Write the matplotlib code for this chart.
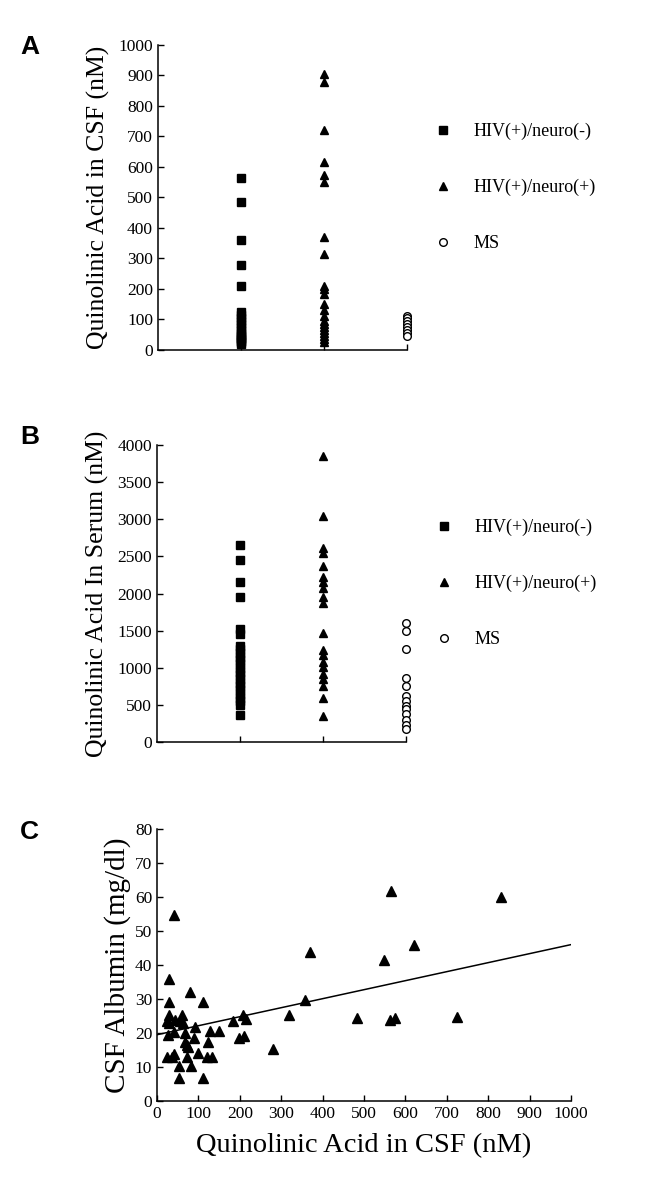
import numpy as np
import matplotlib
matplotlib.use("Agg")
import matplotlib.pyplot as plt
from matplotlib.lines import Line2D

plt.rcParams['font.family'] = ['Liberation Serif', 'DejaVu Serif']

# Panel A: quinolinic acid in CSF (nM)
groups = ["HIV(+)/neuro(-)", "HIV(+)/neuro(+)", "MS"]
csf_neg = [565, 485, 360, 280, 210, 125, 115, 105, 95, 85, 75, 65, 55, 50,
           45, 40, 35, 30, 25, 20]
csf_pos = [905, 880, 720, 615, 575, 550, 370, 315, 210, 200, 185, 150, 130,
           110, 95, 85, 75, 65, 55, 45, 35, 25]
csf_ms = [113, 105, 95, 85, 75, 65, 55, 45]

# Panel B: quinolinic acid in serum (nM)
ser_neg = [2650, 2450, 2150, 1960, 1520, 1450, 1300, 1250, 1200, 1150, 1100,
           1050, 1000, 950, 900, 850, 800, 750, 700, 650, 600, 550, 500, 360]
ser_pos = [3850, 3050, 2620, 2550, 2370, 2220, 2150, 2070, 1960, 1870, 1470,
           1240, 1170, 1080, 1010, 920, 850, 760, 600, 350]
ser_ms = [1600, 1500, 1250, 860, 760, 620, 550, 490, 440, 380, 300, 230, 170]

# Panel C: CSF albumin vs CSF quinolinic acid
qa = [40, 28, 30, 80, 112, 28, 24, 28, 44, 60, 56, 64, 42, 26, 68, 92, 128,
      150, 184, 208, 214, 198, 210, 68, 72, 76, 90, 124, 24, 36, 42, 72, 100,
      120, 134, 54, 82, 52, 110, 280, 320, 358, 370,
      565, 831, 620, 548, 484, 563, 575, 725]
alb = [54.8, 35.8, 29.0, 32.0, 29.0, 25.3, 23.4, 22.9, 23.8, 25.3, 23.4, 22.9,
       20.4, 19.4, 19.9, 21.7, 20.7, 20.7, 23.4, 25.3, 24.1, 18.6, 19.1, 17.5,
       16.5, 16.0, 18.4, 17.5, 13.0, 13.0, 13.7, 13.0, 14.0, 12.9, 13.0, 10.3,
       10.4, 6.7, 6.7, 15.2, 25.3, 29.7, 43.8,
       61.9, 59.9, 45.8, 41.5, 24.5, 23.8, 24.4, 24.7]
fit_intercept = 19.5
fit_slope = 0.0265

fig = plt.figure(figsize=(6.52, 11.99), dpi=100)

def style_axes(ax):
    ax.spines['top'].set_visible(False)
    ax.spines['right'].set_visible(False)
    ax.tick_params(direction='in', length=4, width=1, labelsize=12.5)
    for s in ['left', 'bottom']:
        ax.spines[s].set_linewidth(1.1)

sq = dict(marker='s', color='black', markersize=5.5, linestyle='none')
tri = dict(marker='^', color='black', markersize=6, linestyle='none')
circ = dict(marker='o', markerfacecolor='white', markeredgecolor='black',
            markeredgewidth=1.0, markersize=5.5, linestyle='none')

def column_panel(ax, neg, pos, ms, ymax, ystep, ylabel):
    ax.plot([1] * len(neg), neg, **sq)
    ax.plot([2] * len(pos), pos, **tri)
    ax.plot([3] * len(ms), ms, **circ)
    ax.set_xlim(0, 3)
    ax.set_ylim(0, ymax)
    ax.set_xticks([1, 2, 3])
    ax.set_xticklabels([])
    ax.set_yticks(np.arange(0, ymax + 1, ystep))
    ax.set_ylabel(ylabel, fontsize=18.5, labelpad=6)
    style_axes(ax)
    for ln in ax.lines:
        ln.set_clip_on(False)

def legend(ax, x, y):
    handles = [Line2D([], [], **sq), Line2D([], [], **tri), Line2D([], [], **circ)]
    fig.legend(handles, groups, loc='upper left', bbox_to_anchor=(x, y),
               frameon=False, fontsize=13, handlelength=1.0,
               handletextpad=1.2, labelspacing=2.15, borderpad=0,
               borderaxespad=0, numpoints=1)

axA = fig.add_axes([0.2423, 0.7081, 0.3819, 0.2544])
column_panel(axA, csf_neg, csf_pos, csf_ms, 1000, 100,
             "Quinolinic Acid in CSF (nM)")
legend(axA, 0.6656, 0.8974)

axB = fig.add_axes([0.2408, 0.3811, 0.3819, 0.2477])
column_panel(axB, ser_neg, ser_pos, ser_ms, 4000, 500,
             "Quinolinic Acid In Serum (nM)")
legend(axB, 0.6672, 0.5671)

axC = fig.add_axes([0.2408, 0.0817, 0.635, 0.2269])
axC.plot(qa, alb, marker='^', color='black', markersize=6.5, linestyle='none')
xs = np.array([0, 1000])
axC.plot(xs, fit_intercept + fit_slope * xs, color='black', linewidth=1.1)
axC.set_xlim(0, 1000)
axC.set_ylim(0, 80)
axC.set_xticks(np.arange(0, 1001, 100))
axC.set_yticks(np.arange(0, 81, 10))
axC.set_xlabel("Quinolinic Acid in CSF (nM)", fontsize=20.5, labelpad=8)
axC.set_ylabel("CSF Albumin (mg/dl)", fontsize=21, labelpad=3)
style_axes(axC)

# panel letters
for lab, yy in [("A", 47), ("B", 437), ("C", 832)]:
    fig.text(20 / 652, 1 - yy / 1199, lab, fontsize=19, fontweight='bold',
             family='Liberation Sans', va='center', ha='left')

fig.savefig("out.png", dpi=100)
